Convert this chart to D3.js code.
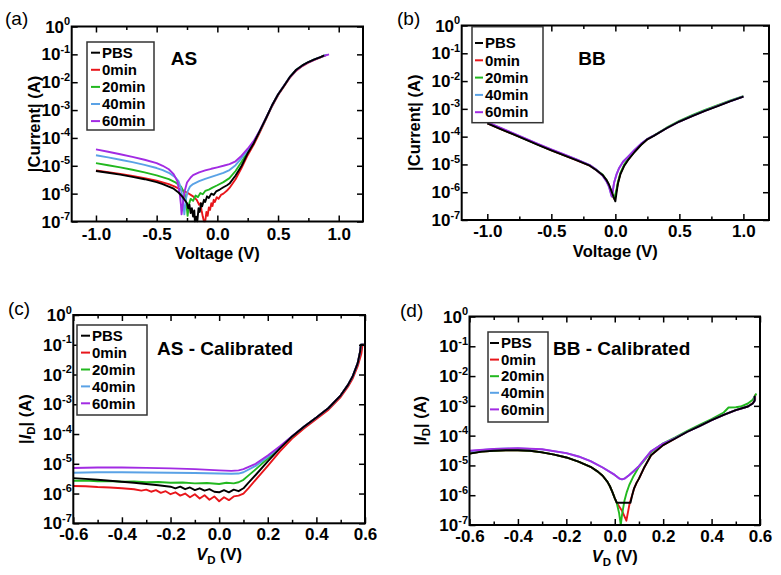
<!DOCTYPE html>
<html><head><meta charset="utf-8">
<script src="https://cdn.jsdelivr.net/npm/d3@7"></script>
<style>
body{margin:0;background:#fff;}
svg text{font-family:"Liberation Sans",Arial,Helvetica,sans-serif;fill:#000;}
</style></head><body>
<svg id="chart" width="781" height="575"></svg>
<script>
// ---------- categories / ticks ----------
const seriesNames = ["PBS", "0min", "20min", "40min", "60min"];
const seriesColors = ["#000000", "#e8161b", "#22b81f", "#5aa2e6", "#a22be3"];
const yDecades = [1e0, 1e-1, 1e-2, 1e-3, 1e-4, 1e-5, 1e-6, 1e-7];
const yExpLabels = ["0", "-1", "-2", "-3", "-4", "-5", "-6", "-7"];
const xMajorAB = [-1.0, -0.5, 0.0, 0.5, 1.0];
const xMinorAB = [-0.75, -0.25, 0.25, 0.75];
const xMajorCD = [-0.6, -0.4, -0.2, 0.0, 0.2, 0.4, 0.6];
const xMinorCD = [-0.5, -0.3, -0.1, 0.1, 0.3, 0.5];

// ---------- panel (a) AS : [V, |I|] ----------
const aPBS = [[-1,6.5e-6],[-0.9,5.6e-6],[-0.8,4.8e-6],[-0.7,4.0e-6],[-0.6,3.3e-6],[-0.5,2.6e-6],[-0.45,2.2e-6],[-0.4,1.8e-6],[-0.36,1.5e-6],[-0.32,1.1e-6],[-0.29,8e-7],[-0.27,6e-7],[-0.25,4.5e-7],[-0.24,3e-7],[-0.23,4e-7],[-0.22,2e-7],[-0.21,3e-7],[-0.2,1.5e-7],[-0.19,2.5e-7],[-0.185,1e-7],[-0.175,1.5e-7],[-0.165,1e-7],[-0.155,3e-7],[-0.145,2.2e-7],[-0.135,4.5e-7],[-0.125,3.5e-7],[-0.11,6e-7],[-0.1,5e-7],[-0.085,8e-7],[-0.07,7e-7],[-0.05,1.0e-6],[-0.03,9e-7],[-0.01,1.2e-6],[0.02,1.4e-6],[0.05,1.7e-6],[0.08,2.0e-6],[0.1,2.3e-6],[0.15,4.5e-6],[0.2,1.0e-5],[0.25,2.8e-5],[0.3,6.5e-5],[0.35,1.8e-4],[0.4,5e-4],[0.45,1.45e-3],[0.5,3.6e-3],[0.55,7.5e-3],[0.6,1.6e-2],[0.65,2.8e-2],[0.7,4.0e-2],[0.75,5.3e-2],[0.8,6.6e-2],[0.85,8.0e-2],[0.88,9.2e-2]];
const a0 = [[-1,6.8e-6],[-0.9,5.9e-6],[-0.8,5.1e-6],[-0.7,4.3e-6],[-0.6,3.6e-6],[-0.5,2.9e-6],[-0.4,2.2e-6],[-0.35,1.8e-6],[-0.3,1.4e-6],[-0.25,1.1e-6],[-0.2,8e-7],[-0.17,6e-7],[-0.15,4e-7],[-0.14,4.5e-7],[-0.13,2.5e-7],[-0.12,1.5e-7],[-0.11,1e-7],[-0.1,1e-7],[-0.09,2.2e-7],[-0.08,1.6e-7],[-0.07,3.2e-7],[-0.06,2.6e-7],[-0.05,4.5e-7],[-0.04,3.6e-7],[-0.03,6e-7],[-0.02,5e-7],[-0.005,7.5e-7],[0.01,6.5e-7],[0.03,9e-7],[0.05,1.0e-6],[0.08,1.3e-6],[0.1,1.6e-6],[0.15,3.3e-6],[0.2,8.5e-6],[0.25,2.4e-5],[0.3,5.8e-5],[0.35,1.6e-4],[0.4,4.6e-4],[0.45,1.35e-3],[0.5,3.4e-3],[0.55,7.2e-3],[0.6,1.5e-2],[0.65,2.6e-2],[0.7,3.8e-2],[0.75,5.0e-2],[0.8,6.3e-2],[0.85,7.8e-2],[0.9,9.5e-2]];
const a20 = [[-1,1.25e-5],[-0.9,1.05e-5],[-0.8,8.8e-6],[-0.7,7.2e-6],[-0.6,5.8e-6],[-0.5,4.5e-6],[-0.4,3.3e-6],[-0.35,2.6e-6],[-0.3,1.8e-6],[-0.27,1.0e-6],[-0.255,4.5e-7],[-0.245,1.6e-7],[-0.235,4e-7],[-0.22,6.5e-7],[-0.2,5.5e-7],[-0.18,8.5e-7],[-0.16,7.5e-7],[-0.14,1.05e-6],[-0.12,9.5e-7],[-0.1,1.25e-6],[-0.07,1.4e-6],[-0.04,1.65e-6],[0,2.0e-6],[0.05,2.6e-6],[0.1,3.6e-6],[0.15,6.5e-6],[0.2,1.4e-5],[0.25,3.1e-5],[0.3,6.9e-5],[0.35,1.8e-4],[0.4,5e-4],[0.45,1.45e-3],[0.5,3.6e-3],[0.55,7.6e-3],[0.6,1.6e-2],[0.65,2.8e-2],[0.7,4.0e-2],[0.75,5.3e-2],[0.8,6.6e-2],[0.85,8.0e-2],[0.9,9.6e-2]];
const a40 = [[-1,2.4e-5],[-0.9,2.0e-5],[-0.8,1.65e-5],[-0.7,1.35e-5],[-0.6,1.08e-5],[-0.5,8.3e-6],[-0.45,7.0e-6],[-0.4,5.6e-6],[-0.35,4.0e-6],[-0.32,2.8e-6],[-0.3,1.6e-6],[-0.285,6e-7],[-0.272,1.8e-7],[-0.26,6e-7],[-0.245,1.2e-6],[-0.225,1.8e-6],[-0.2,2.2e-6],[-0.15,2.8e-6],[-0.1,3.4e-6],[-0.05,4.0e-6],[0,4.7e-6],[0.05,5.6e-6],[0.1,7.0e-6],[0.15,1.05e-5],[0.2,1.9e-5],[0.25,3.6e-5],[0.3,7.2e-5],[0.35,1.8e-4],[0.4,5e-4],[0.45,1.45e-3],[0.5,3.6e-3],[0.55,7.6e-3],[0.6,1.6e-2],[0.65,2.8e-2],[0.7,4.0e-2],[0.75,5.3e-2],[0.8,6.6e-2],[0.85,8.0e-2],[0.9,9.7e-2]];
const a60 = [[-1,3.9e-5],[-0.9,3.2e-5],[-0.8,2.6e-5],[-0.7,2.1e-5],[-0.6,1.65e-5],[-0.5,1.25e-5],[-0.45,1.0e-5],[-0.4,7.5e-6],[-0.36,5.0e-6],[-0.33,2.8e-6],[-0.31,1.0e-6],[-0.3,4e-7],[-0.295,1.8e-7],[-0.285,4e-7],[-0.27,1.2e-6],[-0.25,2.5e-6],[-0.22,3.8e-6],[-0.2,4.6e-6],[-0.15,5.8e-6],[-0.1,6.8e-6],[-0.05,7.8e-6],[0,8.8e-6],[0.05,1.0e-5],[0.1,1.15e-5],[0.15,1.45e-5],[0.2,2.3e-5],[0.25,4.1e-5],[0.3,7.8e-5],[0.35,1.85e-4],[0.4,5.1e-4],[0.45,1.45e-3],[0.5,3.6e-3],[0.55,7.6e-3],[0.6,1.55e-2],[0.65,2.7e-2],[0.7,3.9e-2],[0.75,5.2e-2],[0.8,6.5e-2],[0.85,7.9e-2],[0.92,1.0e-1]];

// ---------- panel (b) BB ----------
const bPBS = [[-1,3.0e-4],[-0.9,1.9e-4],[-0.8,1.23e-4],[-0.7,7.8e-5],[-0.6,5.0e-5],[-0.5,3.2e-5],[-0.4,2.1e-5],[-0.3,1.4e-5],[-0.2,9e-6],[-0.15,6.3e-6],[-0.1,4.2e-6],[-0.07,2.8e-6],[-0.05,1.9e-6],[-0.03,1.1e-6],[-0.015,7e-7],[0,4.7e-7],[0.01,1.0e-6],[0.02,2.0e-6],[0.04,4.5e-6],[0.07,9e-6],[0.1,1.45e-5],[0.15,2.8e-5],[0.2,5.0e-5],[0.25,8.0e-5],[0.3,1.07e-4],[0.4,2.0e-4],[0.5,3.5e-4],[0.6,5.5e-4],[0.7,8.5e-4],[0.8,1.26e-3],[0.9,1.9e-3],[1.0,2.75e-3]];
const b0 = [[-1,3.0e-4],[-0.9,1.9e-4],[-0.8,1.24e-4],[-0.7,7.9e-5],[-0.6,5.1e-5],[-0.5,3.2e-5],[-0.4,2.1e-5],[-0.3,1.4e-5],[-0.2,9e-6],[-0.15,6.3e-6],[-0.1,4.1e-6],[-0.07,2.7e-6],[-0.05,1.8e-6],[-0.03,1.0e-6],[-0.015,6.5e-7],[-0.005,5.5e-7],[0.01,1.2e-6],[0.02,2.2e-6],[0.04,4.8e-6],[0.07,9.5e-6],[0.1,1.5e-5],[0.15,2.9e-5],[0.2,5.1e-5],[0.25,8.1e-5],[0.3,1.08e-4],[0.4,2.0e-4],[0.5,3.5e-4],[0.6,5.6e-4],[0.7,8.7e-4],[0.8,1.3e-3],[0.9,1.95e-3],[1.0,2.8e-3]];
const b20 = [[-1,3.1e-4],[-0.9,1.95e-4],[-0.8,1.25e-4],[-0.7,8.0e-5],[-0.6,5.1e-5],[-0.5,3.3e-5],[-0.4,2.15e-5],[-0.3,1.45e-5],[-0.2,9.3e-6],[-0.15,6.5e-6],[-0.1,4.3e-6],[-0.07,2.8e-6],[-0.05,1.8e-6],[-0.03,1.0e-6],[-0.015,6.5e-7],[-0.008,6e-7],[0.01,1.3e-6],[0.02,2.3e-6],[0.04,5e-6],[0.07,1.0e-5],[0.1,1.55e-5],[0.15,2.9e-5],[0.2,5.1e-5],[0.25,8.2e-5],[0.3,1.1e-4],[0.4,2.1e-4],[0.5,3.7e-4],[0.6,5.9e-4],[0.7,9.2e-4],[0.8,1.35e-3],[0.9,2.0e-3],[1.0,2.85e-3]];
const b40 = [[-1,3.2e-4],[-0.9,2.05e-4],[-0.8,1.3e-4],[-0.7,8.3e-5],[-0.6,5.3e-5],[-0.5,3.4e-5],[-0.4,2.25e-5],[-0.3,1.5e-5],[-0.2,9.4e-6],[-0.15,6.5e-6],[-0.1,4.0e-6],[-0.07,2.5e-6],[-0.05,1.6e-6],[-0.035,9e-7],[-0.028,7.2e-7],[-0.02,1.1e-6],[-0.01,2.2e-6],[0.01,4.5e-6],[0.03,7.5e-6],[0.06,1.25e-5],[0.1,1.9e-5],[0.15,3.3e-5],[0.2,5.5e-5],[0.25,8.2e-5],[0.3,1.08e-4],[0.4,2.0e-4],[0.5,3.5e-4],[0.6,5.6e-4],[0.7,8.6e-4],[0.8,1.28e-3],[0.9,1.92e-3],[1.0,2.78e-3]];
const b60 = [[-1,3.3e-4],[-0.9,2.1e-4],[-0.8,1.35e-4],[-0.7,8.5e-5],[-0.6,5.4e-5],[-0.5,3.5e-5],[-0.4,2.3e-5],[-0.3,1.5e-5],[-0.2,9.5e-6],[-0.15,6.5e-6],[-0.1,4.0e-6],[-0.07,2.5e-6],[-0.05,1.6e-6],[-0.035,9e-7],[-0.028,7e-7],[-0.02,1.1e-6],[-0.01,2.2e-6],[0.01,4.5e-6],[0.03,7.5e-6],[0.06,1.25e-5],[0.1,1.9e-5],[0.15,3.3e-5],[0.2,5.5e-5],[0.25,8.2e-5],[0.3,1.08e-4],[0.4,2.0e-4],[0.5,3.5e-4],[0.6,5.5e-4],[0.7,8.5e-4],[0.8,1.27e-3],[0.9,1.9e-3],[1.0,2.75e-3]];

// ---------- panel (c) AS - Calibrated ----------
const cPBS = [[-0.6,3.3e-6],[-0.55,3.1e-6],[-0.5,2.9e-6],[-0.45,2.7e-6],[-0.4,2.5e-6],[-0.35,2.3e-6],[-0.3,2.1e-6],[-0.25,1.9e-6],[-0.2,1.7e-6],[-0.18,1.5e-6],[-0.16,1.7e-6],[-0.14,1.4e-6],[-0.12,1.6e-6],[-0.1,1.3e-6],[-0.08,1.5e-6],[-0.06,1.25e-6],[-0.04,1.4e-6],[-0.02,1.15e-6],[0,1.1e-6],[0.02,1.3e-6],[0.04,1.1e-6],[0.06,1.35e-6],[0.08,1.2e-6],[0.1,1.5e-6],[0.12,2.3e-6],[0.15,4.2e-6],[0.2,1.2e-5],[0.25,3.3e-5],[0.3,8.3e-5],[0.35,1.8e-4],[0.4,3.6e-4],[0.45,7.5e-4],[0.5,2.0e-3],[0.53,4.5e-3],[0.55,9e-3],[0.57,2.4e-2],[0.58,6e-2],[0.583,1e-1],[0.595,1e-1]];
const c0 = [[-0.6,1.8e-6],[-0.55,1.75e-6],[-0.5,1.65e-6],[-0.45,1.6e-6],[-0.4,1.5e-6],[-0.35,1.4e-6],[-0.32,1.25e-6],[-0.3,1.35e-6],[-0.28,1.15e-6],[-0.26,1.3e-6],[-0.24,1.05e-6],[-0.22,1.2e-6],[-0.2,9.5e-7],[-0.18,1.1e-6],[-0.16,8.5e-7],[-0.14,1.0e-6],[-0.12,7.5e-7],[-0.1,9.5e-7],[-0.08,6.8e-7],[-0.06,8.8e-7],[-0.04,6.2e-7],[-0.02,8e-7],[0,5.5e-7],[0.02,7.5e-7],[0.04,6e-7],[0.06,8e-7],[0.08,8.5e-7],[0.1,1.0e-6],[0.12,1.5e-6],[0.15,2.9e-6],[0.2,8.5e-6],[0.25,2.6e-5],[0.3,7e-5],[0.35,1.55e-4],[0.4,3.2e-4],[0.45,6.6e-4],[0.5,1.75e-3],[0.53,3.9e-3],[0.55,7.5e-3],[0.57,1.9e-2],[0.585,5e-2],[0.59,1e-1],[0.6,1e-1]];
const c20 = [[-0.6,2.7e-6],[-0.55,2.75e-6],[-0.5,2.6e-6],[-0.45,2.65e-6],[-0.4,2.5e-6],[-0.35,2.55e-6],[-0.3,2.4e-6],[-0.25,2.45e-6],[-0.2,2.3e-6],[-0.15,2.35e-6],[-0.1,2.2e-6],[-0.05,2.25e-6],[0,2.1e-6],[0.03,2.3e-6],[0.06,2.2e-6],[0.08,2.4e-6],[0.1,2.9e-6],[0.12,4e-6],[0.15,6.5e-6],[0.2,1.5e-5],[0.25,3.5e-5],[0.3,8.3e-5],[0.35,1.8e-4],[0.4,3.6e-4],[0.45,7.5e-4],[0.5,2.0e-3],[0.53,4.5e-3],[0.55,9e-3],[0.57,2.4e-2],[0.58,6e-2],[0.583,1e-1],[0.595,1e-1]];
const c40 = [[-0.6,5.0e-6],[-0.5,5.2e-6],[-0.4,5.2e-6],[-0.3,5.1e-6],[-0.2,5.0e-6],[-0.1,4.9e-6],[0,4.7e-6],[0.05,4.6e-6],[0.08,4.7e-6],[0.1,5.2e-6],[0.15,8.5e-6],[0.2,1.7e-5],[0.25,3.7e-5],[0.3,8.4e-5],[0.35,1.8e-4],[0.4,3.6e-4],[0.45,7.5e-4],[0.5,2.0e-3],[0.53,4.5e-3],[0.55,9e-3],[0.57,2.4e-2],[0.58,6e-2],[0.583,1e-1],[0.595,1e-1]];
const c60 = [[-0.6,7.2e-6],[-0.5,7.5e-6],[-0.4,7.5e-6],[-0.3,7.3e-6],[-0.2,7.0e-6],[-0.1,6.6e-6],[0,6.0e-6],[0.05,5.8e-6],[0.08,6.0e-6],[0.1,6.6e-6],[0.15,1.0e-5],[0.2,1.9e-5],[0.25,3.9e-5],[0.3,8.5e-5],[0.35,1.8e-4],[0.4,3.6e-4],[0.45,7.5e-4],[0.5,2.0e-3],[0.53,4.5e-3],[0.55,9e-3],[0.57,2.4e-2],[0.58,6e-2],[0.583,1e-1],[0.595,1e-1]];

// ---------- panel (d) BB - Calibrated ----------
const dPBS = [[-0.6,2.5e-5],[-0.55,2.9e-5],[-0.5,3.1e-5],[-0.45,3.25e-5],[-0.4,3.25e-5],[-0.35,3.1e-5],[-0.3,2.75e-5],[-0.25,2.3e-5],[-0.2,1.85e-5],[-0.15,1.35e-5],[-0.1,9e-6],[-0.07,6.2e-6],[-0.05,4.5e-6],[-0.03,2.8e-6],[-0.02,2.0e-6],[-0.01,1.3e-6],[0,8e-7],[0.008,5.6e-7],[0.065,5.6e-7],[0.072,1.0e-6],[0.08,1.7e-6],[0.09,2.6e-6],[0.1,3.6e-6],[0.12,8e-6],[0.15,2.2e-5],[0.2,4.8e-5],[0.25,8e-5],[0.3,1.35e-4],[0.35,2.1e-4],[0.4,3.3e-4],[0.45,5e-4],[0.5,7.2e-4],[0.55,9.5e-4],[0.57,1.2e-3],[0.578,1.5e-3],[0.578,2.2e-3]];
const d0 = [[-0.6,2.5e-5],[-0.55,2.9e-5],[-0.5,3.1e-5],[-0.45,3.25e-5],[-0.4,3.25e-5],[-0.35,3.1e-5],[-0.3,2.75e-5],[-0.25,2.3e-5],[-0.2,1.85e-5],[-0.15,1.35e-5],[-0.1,9e-6],[-0.07,6.2e-6],[-0.05,4.5e-6],[-0.03,2.8e-6],[-0.02,2.0e-6],[-0.01,1.3e-6],[0,8e-7],[0.008,5.6e-7],[0.03,3e-7],[0.048,1.4e-7],[0.062,5.6e-7],[0.072,1.0e-6],[0.08,1.7e-6],[0.09,2.6e-6],[0.1,3.6e-6],[0.12,8e-6],[0.15,2.2e-5],[0.2,4.8e-5],[0.25,8e-5],[0.3,1.35e-4],[0.35,2.1e-4],[0.4,3.3e-4],[0.45,5e-4],[0.5,7.2e-4],[0.55,9.5e-4],[0.57,1.25e-3],[0.58,1.6e-3],[0.58,2.4e-3]];
const d20 = [[-0.6,2.5e-5],[-0.55,2.9e-5],[-0.5,3.1e-5],[-0.45,3.25e-5],[-0.4,3.25e-5],[-0.35,3.1e-5],[-0.3,2.75e-5],[-0.25,2.3e-5],[-0.2,1.85e-5],[-0.15,1.35e-5],[-0.1,9e-6],[-0.07,6.2e-6],[-0.05,4.5e-6],[-0.03,2.8e-6],[-0.02,2.0e-6],[-0.01,1.3e-6],[0,8e-7],[0.008,5.6e-7],[0.018,2.5e-7],[0.025,1e-7],[0.03,2.2e-7],[0.04,6.5e-7],[0.05,1.3e-6],[0.06,2.2e-6],[0.075,4e-6],[0.1,9e-6],[0.15,2.8e-5],[0.2,5.5e-5],[0.25,8.8e-5],[0.3,1.45e-4],[0.35,2.3e-4],[0.4,3.6e-4],[0.45,6e-4],[0.47,8.8e-4],[0.5,9e-4],[0.52,9.5e-4],[0.55,1.2e-3],[0.57,1.6e-3],[0.585,2.6e-3]];
const d40 = [[-0.6,3.0e-5],[-0.5,3.55e-5],[-0.4,3.75e-5],[-0.3,3.45e-5],[-0.2,2.6e-5],[-0.15,2.0e-5],[-0.1,1.4e-5],[-0.05,8.5e-6],[0,4.8e-6],[0.02,3.6e-6],[0.03,3.4e-6],[0.04,3.6e-6],[0.06,4.8e-6],[0.08,6.6e-6],[0.1,9.5e-6],[0.15,3.0e-5],[0.2,5.4e-5],[0.25,8.3e-5],[0.3,1.35e-4],[0.35,2.1e-4],[0.4,3.3e-4],[0.45,5e-4],[0.5,7.2e-4],[0.55,9.5e-4],[0.57,1.2e-3],[0.578,1.5e-3],[0.578,2.1e-3]];
const d60 = [[-0.6,3.1e-5],[-0.5,3.6e-5],[-0.4,3.8e-5],[-0.3,3.5e-5],[-0.2,2.6e-5],[-0.15,2.0e-5],[-0.1,1.4e-5],[-0.05,8.5e-6],[0,4.8e-6],[0.02,3.6e-6],[0.03,3.4e-6],[0.04,3.6e-6],[0.06,4.8e-6],[0.08,6.6e-6],[0.1,9.5e-6],[0.15,3.0e-5],[0.2,5.4e-5],[0.25,8.3e-5],[0.3,1.35e-4],[0.35,2.1e-4],[0.4,3.3e-4],[0.45,5e-4],[0.5,7.2e-4],[0.55,9.5e-4],[0.57,1.2e-3],[0.578,1.5e-3],[0.578,2.1e-3]];

// ---------- layout (positions only) ----------
const panels = [
  {key:"a", l:71.7, r:363, t:26.5, b:221.5, xDomain:[-1.2,1.2], major:xMajorAB, minor:xMinorAB,
   series:[aPBS,a0,a20,a40,a60], calibrated:false, yTitleX:40, xPad:6.5, xTitleY:259,
   letter:{x:5,y:25,text:"(a)"}, note:{x:184,y:65,anchor:"middle",text:"AS"},
   legend:{x:87,y:42,w:67,h:88,row0:52.7,gap:17.1,lx1:91,lx2:100,tx:102}},
  {key:"b", l:461.7, r:769, t:25.5, b:220, xDomain:[-1.2,1.2], major:xMajorAB, minor:xMinorAB,
   series:[bPBS,b0,b20,b40,b60], calibrated:false, yTitleX:420, xPad:5, xTitleY:257,
   letter:{x:397,y:25,text:"(b)"}, note:{x:592,y:65,anchor:"middle",text:"BB"},
   legend:{x:472,y:26.7,w:71,h:96,row0:43,gap:17.3,lx1:475,lx2:483,tx:485}},
  {key:"c", l:73.3, r:365, t:315, b:523.3, xDomain:[-0.6,0.6], major:xMajorCD, minor:xMinorCD,
   series:[cPBS,c0,c20,c40,c60], calibrated:true, yTitleX:31, xPad:4.5, xTitleY:560,
   letter:{x:8,y:315,text:"(c)"}, note:{x:157,y:355,anchor:"start",text:"AS - Calibrated"},
   legend:{x:77,y:325,w:70,h:90,row0:335.7,gap:16.9,lx1:81,lx2:90,tx:92}},
  {key:"d", l:469.5, r:760, t:316.5, b:525, xDomain:[-0.6,0.6], major:xMajorCD, minor:xMinorCD,
   series:[dPBS,d0,d20,d40,d60], calibrated:true, yTitleX:426, xPad:4.5, xTitleY:561.5,
   letter:{x:400,y:317,text:"(d)"}, note:{x:553,y:355,anchor:"start",text:"BB - Calibrated"},
   legend:{x:488,y:332,w:60,h:90,row0:343,gap:16.6,lx1:490,lx2:499,tx:501}}
];

const drawOrder = [1, 2, 3, 4, 0];
const svg = d3.select("#chart");
const FONT = '"Liberation Sans", Arial, Helvetica, sans-serif';
const TICK_FS = 17, TITLE_FS = 16.5, LEGEND_FS = 15, NOTE_FS = 19, LETTER_FS = 19;

panels.forEach(p => {
  const x = d3.scaleLinear().domain(p.xDomain).range([p.l, p.r]);
  const y = d3.scaleLog().domain([1e-7, 1]).range([p.b, p.t]);
  const g = svg.append("g").attr("class", "panel-" + p.key);

  const clipId = "clip-" + p.key;
  svg.append("clipPath").attr("id", clipId).append("rect")
    .attr("x", p.l).attr("y", p.t - 1).attr("width", p.r - p.l).attr("height", p.b - p.t + 2);

  const line = d3.line().x(d => x(d[0])).y(d => y(d[1]));
  drawOrder.forEach(i => {
    g.append("path").datum(p.series[i]).attr("d", line)
      .attr("fill", "none").attr("stroke", seriesColors[i]).attr("stroke-width", 1.9)
      .attr("stroke-linejoin", "round").attr("clip-path", `url(#${clipId})`);
  });

  const ax = (gen, tx, ty) => {
    const s = g.append("g").attr("transform", `translate(${tx},${ty})`).call(gen);
    s.select(".domain").remove();
    s.selectAll(".tick line").attr("stroke", "#000").attr("stroke-width", 1.5);
    s.attr("font-family", FONT).attr("font-size", TICK_FS).attr("font-weight", "bold");
    s.selectAll(".tick text").attr("fill", "#000");
    return s;
  };
  ax(d3.axisBottom(x).tickValues(p.major).tickSize(-6).tickPadding(p.xPad).tickFormat(d => d.toFixed(1)), 0, p.b);
  ax(d3.axisBottom(x).tickValues(p.minor).tickSize(-3.5).tickFormat(""), 0, p.b);
  ax(d3.axisTop(x).tickValues(p.major).tickSize(-6).tickFormat(""), 0, p.t);
  ax(d3.axisTop(x).tickValues(p.minor).tickSize(-3.5).tickFormat(""), 0, p.t);
  ax(d3.axisLeft(y).tickValues(yDecades).tickSize(-6).tickFormat(""), p.l, 0);
  ax(d3.axisRight(y).tickValues(yDecades).tickSize(-6).tickFormat(""), p.r, 0);

  g.append("rect").attr("x", p.l).attr("y", p.t).attr("width", p.r - p.l).attr("height", p.b - p.t)
    .attr("fill", "none").attr("stroke", "#000").attr("stroke-width", 2);

  // y tick labels 10^n
  yDecades.forEach((v, i) => {
    const t = g.append("text").attr("x", p.l - 1.5).attr("y", y(v) + 6)
      .attr("text-anchor", "end").attr("font-size", TICK_FS).attr("font-weight", "bold");
    t.append("tspan").text("10");
    t.append("tspan").attr("dy", -7.5).attr("font-size", 11).text(yExpLabels[i]);
  });

  // y title
  const yt = g.append("text")
    .attr("transform", `translate(${p.yTitleX},${(p.t + p.b) / 2}) rotate(-90)`)
    .attr("text-anchor", "middle").attr("font-size", TITLE_FS).attr("font-weight", "bold");
  if (!p.calibrated) {
    yt.text("|Current| (A)");
  } else {
    yt.append("tspan").text("|");
    yt.append("tspan").attr("font-style", "italic").text("I");
    yt.append("tspan").attr("font-size", 11.5).attr("dy", 4).text("D");
    yt.append("tspan").attr("dy", -4).text("| (A)");
  }

  // x title
  const xt = g.append("text").attr("x", (p.l + p.r) / 2).attr("y", p.xTitleY)
    .attr("text-anchor", "middle").attr("font-size", TITLE_FS).attr("font-weight", "bold");
  if (!p.calibrated) {
    xt.text("Voltage (V)");
  } else {
    xt.append("tspan").attr("font-style", "italic").text("V");
    xt.append("tspan").attr("font-size", 11.5).attr("dy", 4).text("D");
    xt.append("tspan").attr("dy", -4).text(" (V)");
  }

  // panel letter
  g.append("text").attr("x", p.letter.x).attr("y", p.letter.y)
    .attr("font-size", LETTER_FS).text(p.letter.text);

  // annotation
  g.append("text").attr("x", p.note.x).attr("y", p.note.y).attr("text-anchor", p.note.anchor)
    .attr("font-size", NOTE_FS).attr("font-weight", "bold").text(p.note.text);

  // legend
  const L = p.legend;
  const lg = g.append("g");
  lg.append("rect").attr("x", L.x).attr("y", L.y).attr("width", L.w).attr("height", L.h)
    .attr("fill", "#fff").attr("stroke", "#333").attr("stroke-width", 1.5);
  seriesNames.forEach((n, i) => {
    const yy = L.row0 + i * L.gap;
    lg.append("line").attr("x1", L.lx1).attr("x2", L.lx2).attr("y1", yy).attr("y2", yy)
      .attr("stroke", seriesColors[i]).attr("stroke-width", 2);
    lg.append("text").attr("x", L.tx).attr("y", yy + 5.2).attr("font-size", LEGEND_FS)
      .attr("font-weight", "bold").text(n);
  });
});
</script>
</body></html>
